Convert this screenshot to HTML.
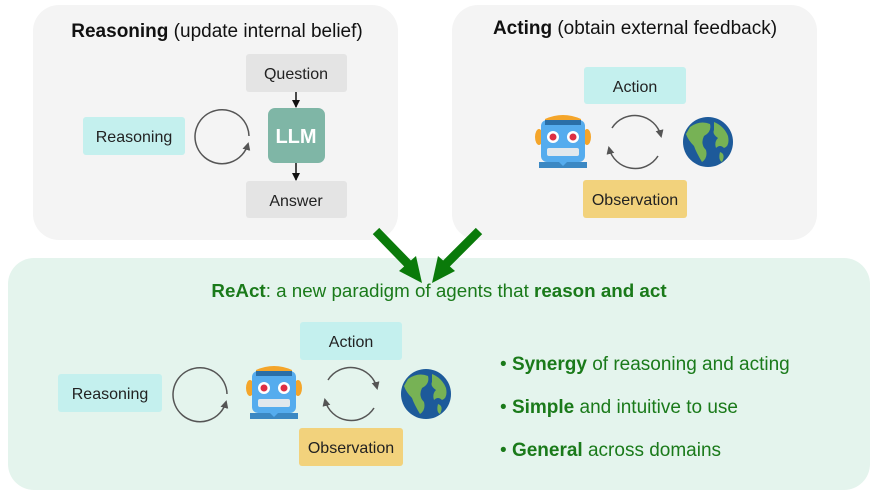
<!DOCTYPE html>
<html><head><meta charset="utf-8"><style>
body{margin:0;background:#fff;width:877px;height:494px;overflow:hidden}
text{font-family:"Liberation Sans",sans-serif}
</style></head><body>
<svg width="877" height="494" viewBox="0 0 877 494">
<defs>
<marker id="ah" markerWidth="8" markerHeight="8" refX="6" refY="4" orient="auto" markerUnits="userSpaceOnUse"><path d="M0,0 L8,4 L0,8z" fill="#555"/></marker>
<marker id="bk" markerWidth="8" markerHeight="8" refX="7" refY="4" orient="auto" markerUnits="userSpaceOnUse"><path d="M0,0 L8,4 L0,8z" fill="#111"/></marker>
<g id="robot">
<path d="M10,4 Q28,-4 46,4 L46,8 L10,8z" fill="#f4a52a"/>
<ellipse cx="4" cy="22" rx="4" ry="8" fill="#f4a52a"/>
<ellipse cx="52" cy="22" rx="4" ry="8" fill="#f4a52a"/>
<rect x="6" y="5" width="44" height="42" rx="6" fill="#55acee"/>
<rect x="10" y="5" width="36" height="5" fill="#2a6fa8"/>
<circle cx="18" cy="22" r="6" fill="#fff"/><circle cx="18" cy="22" r="3.5" fill="#dd2e44"/>
<circle cx="38" cy="22" r="6" fill="#fff"/><circle cx="38" cy="22" r="3.5" fill="#dd2e44"/>
<rect x="12" y="33" width="32" height="8" rx="2" fill="#e1e8ed"/>
<path d="M4,47 L52,47 L52,53 L4,53z" fill="#3b88c3"/>
<path d="M24,47 L28,51 L32,47z" fill="#55acee"/>
</g>
<g id="globe">
<circle cx="0" cy="0" r="25" fill="#1d5a9a"/>
<path d="M-18,-15 Q-8,-22 2,-18 Q4,-10 -4,-6 Q-8,2 -2,8 Q0,16 -6,20 Q-12,10 -14,4 Q-20,-2 -22,-8z" fill="#77b255"/>
<path d="M6,-20 Q16,-16 20,-6 Q22,4 16,6 Q12,2 8,6 Q6,0 10,-4 Q4,-8 6,-12z" fill="#77b255"/>
<path d="M12,10 Q18,12 14,20 Q10,18 12,10z" fill="#77b255"/>
</g>
</defs>
<rect x="33" y="5" width="365" height="235" rx="26" fill="#f4f4f4"/>
<rect x="452" y="5" width="365" height="235" rx="26" fill="#f4f4f4"/>
<rect x="8" y="258" width="862" height="232" rx="26" fill="#e4f4ed"/>
<text x="217" y="37" font-size="19" text-anchor="middle" fill="#111"><tspan font-weight="bold">Reasoning</tspan> (update internal belief)</text>
<rect x="246" y="54" width="101" height="38" rx="3" fill="#e4e4e4"/>
<text x="296" y="79" font-size="16" text-anchor="middle" fill="#222">Question</text>
<rect x="268" y="108" width="57" height="55" rx="7" fill="#7fb6a6"/>
<text x="296" y="143" font-size="20" font-weight="bold" text-anchor="middle" fill="#fff">LLM</text>
<rect x="246" y="181" width="101" height="37" rx="3" fill="#e4e4e4"/>
<text x="296" y="206" font-size="16" text-anchor="middle" fill="#222">Answer</text>
<line x1="296" y1="92" x2="296" y2="107" stroke="#111" stroke-width="1.5" marker-end="url(#bk)"/>
<line x1="296" y1="163" x2="296" y2="180" stroke="#111" stroke-width="1.5" marker-end="url(#bk)"/>
<rect x="83" y="117" width="102" height="38" rx="3" fill="#c4f0ee"/>
<text x="134" y="142" font-size="16" text-anchor="middle" fill="#222">Reasoning</text>
<path d="M249,136 A27,27 0 1 0 248,144" fill="none" stroke="#555" stroke-width="1.5" marker-end="url(#ah)"/>
<text x="635" y="34" font-size="19" text-anchor="middle" fill="#111"><tspan font-weight="bold">Acting</tspan> (obtain external feedback)</text>
<rect x="584" y="67" width="102" height="37" rx="3" fill="#c4f0ee"/>
<text x="635" y="92" font-size="16" text-anchor="middle" fill="#222">Action</text>
<rect x="583" y="180" width="104" height="38" rx="3" fill="#f2d27c"/>
<text x="635" y="205" font-size="16" text-anchor="middle" fill="#222">Observation</text>
<use href="#robot" x="535" y="115"/>
<path d="M612,128 A27,27 0 0 1 661,136" fill="none" stroke="#555" stroke-width="1.5" marker-end="url(#ah)"/>
<path d="M658,156 A27,27 0 0 1 609,148" fill="none" stroke="#555" stroke-width="1.5" marker-end="url(#ah)"/>
<use href="#globe" x="708" y="142"/>
<line x1="376" y1="231" x2="410" y2="266" stroke="#0a7a0a" stroke-width="9"/>
<path d="M399,271 L422,283 L416,256z" fill="#0a7a0a"/>
<line x1="479" y1="231" x2="444" y2="266" stroke="#0a7a0a" stroke-width="9"/>
<path d="M455,271 L432,283 L438,256z" fill="#0a7a0a"/>
<text x="439" y="297" font-size="18.8" text-anchor="middle" fill="#1a7a1a"><tspan font-weight="bold">ReAct</tspan>: a new paradigm of agents that <tspan font-weight="bold">reason and act</tspan></text>
<rect x="300" y="322" width="102" height="38" rx="3" fill="#c4f0ee"/>
<text x="351" y="347" font-size="16" text-anchor="middle" fill="#222">Action</text>
<rect x="299" y="428" width="104" height="38" rx="3" fill="#f2d27c"/>
<text x="351" y="453" font-size="16" text-anchor="middle" fill="#222">Observation</text>
<rect x="58" y="374" width="104" height="38" rx="3" fill="#c4f0ee"/>
<text x="110" y="399" font-size="16" text-anchor="middle" fill="#222">Reasoning</text>
<path d="M227,394 A27,27 0 1 0 226,402" fill="none" stroke="#555" stroke-width="1.5" marker-end="url(#ah)"/>
<use href="#robot" x="246" y="366"/>
<path d="M328,380 A27,27 0 0 1 377,388" fill="none" stroke="#555" stroke-width="1.5" marker-end="url(#ah)"/>
<path d="M374,408 A27,27 0 0 1 325,400" fill="none" stroke="#555" stroke-width="1.5" marker-end="url(#ah)"/>
<use href="#globe" x="426" y="394"/>
<g font-size="19" fill="#1a7a1a">
<text x="500" y="370">• <tspan font-weight="bold">Synergy</tspan> of reasoning and acting</text>
<text x="500" y="413">• <tspan font-weight="bold">Simple</tspan> and intuitive to use</text>
<text x="500" y="456">• <tspan font-weight="bold">General</tspan> across domains</text>
</g>
</svg>
</body></html>
